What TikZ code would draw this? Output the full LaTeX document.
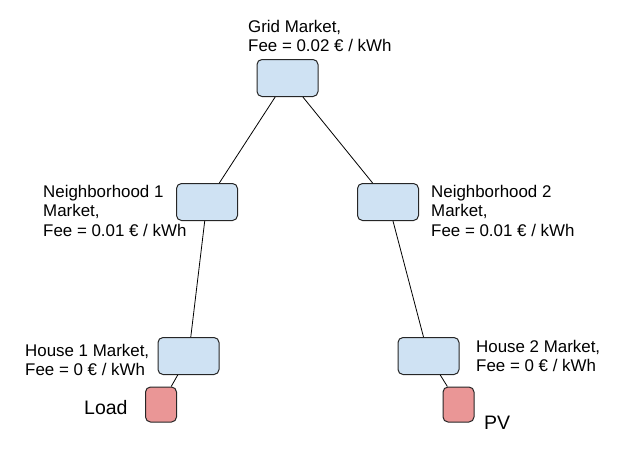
\documentclass[tikz,border=0pt]{standalone}
\usepackage{fontspec}
\setmainfont{Liberation Sans}
\usepackage{tikz}
\usetikzlibrary{positioning}
\definecolor{colorMarket}{RGB}{207,226,243}
\definecolor{colorDevice}{RGB}{234,150,150}

\begin{document}
\begin{tikzpicture}[x=1pt,y=-1pt,
  market/.style={draw=black!85,line width=1pt,rounded corners=5pt,fill=colorMarket,minimum width=61pt,minimum height=37pt,inner sep=0pt},
  device/.style={draw=black!85,line width=1pt,rounded corners=5pt,fill=colorDevice,minimum width=31pt,minimum height=35pt,inner sep=0pt},
  lbl/.style={anchor=north west,inner sep=0pt,align=left,font=\fontsize{16.9}{19.5}\selectfont},
  devlbl/.style={anchor=north west,inner sep=0pt,font=\fontsize{19.5}{23}\selectfont},
  link/.style={line width=0.8pt}]
  \useasboundingbox (0,0) rectangle (626,450);
  % markets
  \node[market] (grid) at (287.5,78) {};
  \node[market] (nb1) at (207,202) {};
  \node[market] (nb2) at (388,202) {};
  \node[market] (house1) at (188.5,356) {};
  \node[market] (house2) at (428.5,356) {};
  % devices
  \node[device] (load) at (161,404.5) {};
  \node[device] (pv) at (458.5,404.5) {};
  % labels
  \node[lbl] (gridlbl) at (248,20) {Grid Market,\\Fee = 0.02 € / kWh};
  \node[lbl] (nb1lbl) at (43,185) {Neighborhood 1\\Market,\\Fee = 0.01 € / kWh};
  \node[lbl] (nb2lbl) at (431,185) {Neighborhood 2\\Market,\\Fee = 0.01 € / kWh};
  \node[lbl] (house1lbl) at (25,344) {House 1 Market,\\Fee = 0 € / kWh};
  \node[lbl] (house2lbl) at (476,340) {House 2 Market,\\Fee = 0 € / kWh};
  \node[devlbl] (loadlbl) at (84,400) {Load};
  \node[devlbl] (pvlbl) at (484,416) {PV};
  % links
  \draw[link] (grid) -- (nb1);
  \draw[link] (grid) -- (nb2);
  \draw[link] (nb1) -- (house1);
  \draw[link] (nb2) -- (house2);
  \draw[link] (house1) -- (load);
  \draw[link] (house2) -- (pv);
\end{tikzpicture}
\end{document}
